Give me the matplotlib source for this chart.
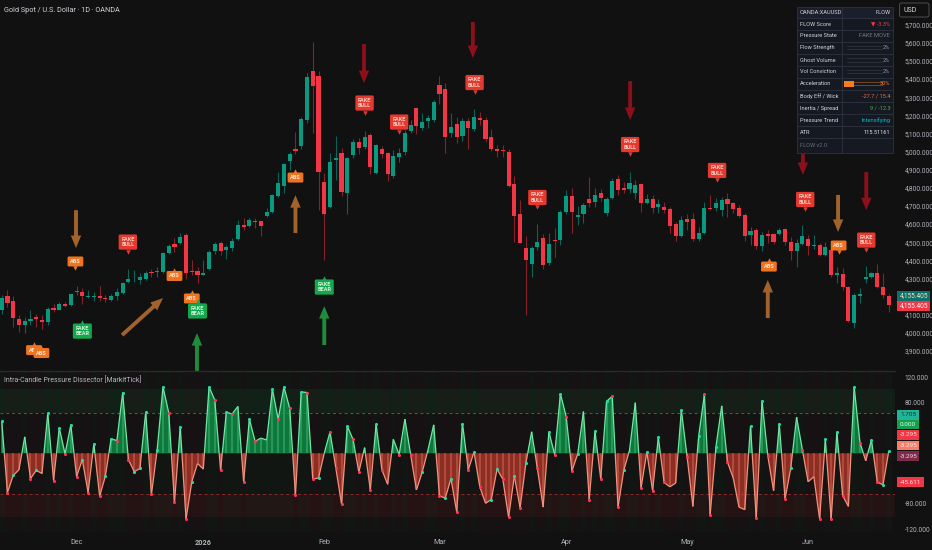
import matplotlib.pyplot as plt
import numpy as np
from matplotlib.collections import LineCollection
from matplotlib.patches import Rectangle, FancyBboxPatch
import matplotlib.transforms as mtransforms

plt.rcParams['font.family'] = ['Roboto', 'DejaVu Sans']

# ---------------- data ----------------
opens = [4125, 4203, 4175, 4074, 4046, 4063, 4087, 4072, 4061, 4135,
         4129, 4162, 4153, 4225, 4227, 4197, 4199, 4206, 4195, 4184,
         4205, 4221, 4280, 4295, 4291, 4297, 4337, 4337, 4337, 4442,
         4488, 4497, 4539, 4343, 4341, 4322, 4350, 4451, 4497, 4457,
         4469, 4518, 4593, 4590, 4619, 4615, 4647, 4665, 4757, 4812,
         4946, 5012, 5031, 5174, 5445, 5417, 4832, 4696, 4956, 4991,
         4774, 4981, 5055, 5027, 5092, 4884, 5016, 4994, 4865, 4972,
         4996, 5114, 5241, 5128, 5169, 5174, 5366, 5343, 5101, 5150,
         5086, 5169, 5123, 5187, 5174, 5079, 5013, 5011, 4996, 4821,
         4656, 4470, 4380, 4472, 4522, 4384, 4512, 4513, 4669, 4755,
         4638, 4656, 4740, 4724, 4770, 4663, 4742, 4847, 4797, 4792,
         4770, 4821, 4718, 4737, 4693, 4694, 4682, 4599, 4536, 4627,
         4626, 4516, 4549, 4689, 4691, 4678, 4737, 4718, 4691, 4650,
         4540, 4568, 4479, 4544, 4544, 4546, 4571, 4503, 4454, 4490,
         4518, 4479, 4485, 4430, 4457, 4317, 4325, 4255, 4056, 4204,
         4295, 4310, 4329, 4255, 4204]
highs = [4208, 4239, 4203, 4098, 4089, 4129, 4107, 4098, 4144, 4157,
         4171, 4171, 4217, 4258, 4245, 4236, 4227, 4258, 4208, 4217,
         4245, 4282, 4350, 4346, 4332, 4343, 4350, 4361, 4447, 4493,
         4525, 4549, 4549, 4401, 4365, 4401, 4457, 4503, 4506, 4484,
         4521, 4623, 4632, 4636, 4632, 4619, 4687, 4766, 4889, 4939,
         5000, 5110, 5193, 5432, 5605, 5446, 4880, 4991, 5088, 5022,
         4972, 5068, 5073, 5116, 5101, 5042, 5031, 5000, 5009, 5018,
         5119, 5174, 5248, 5215, 5202, 5285, 5417, 5377, 5211, 5189,
         5184, 5184, 5233, 5220, 5193, 5123, 5036, 5036, 5013, 4866,
         4733, 4535, 4479, 4601, 4546, 4553, 4577, 4678, 4788, 4797,
         4700, 4715, 4858, 4797, 4792, 4748, 4853, 4871, 4834, 4889,
         4843, 4829, 4766, 4761, 4737, 4724, 4696, 4610, 4645, 4656,
         4660, 4582, 4724, 4761, 4742, 4752, 4774, 4724, 4706, 4663,
         4582, 4577, 4558, 4568, 4553, 4577, 4577, 4527, 4516, 4595,
         4540, 4540, 4494, 4503, 4476, 4365, 4356, 4259, 4218, 4246,
         4369, 4338, 4380, 4329, 4215]
lows = [4107, 4144, 4033, 4006, 3997, 4043, 4033, 4020, 4043, 4113,
        4125, 4144, 4147, 4208, 4162, 4190, 4177, 4177, 4171, 4177,
        4184, 4217, 4273, 4282, 4269, 4291, 4309, 4309, 4332, 4435,
        4447, 4493, 4300, 4319, 4273, 4319, 4346, 4438, 4429, 4405,
        4451, 4512, 4568, 4586, 4577, 4536, 4641, 4660, 4752, 4770,
        4899, 4987, 5012, 5156, 5101, 4678, 4402, 4687, 4843, 4757,
        4654, 4963, 4987, 5012, 4876, 4876, 4963, 4840, 4853, 4945,
        4981, 5101, 5095, 5119, 5128, 5165, 5261, 4994, 5082, 5049,
        5060, 5013, 5116, 5147, 5055, 5005, 4968, 4972, 4803, 4503,
        4494, 4099, 4306, 4457, 4351, 4375, 4421, 4485, 4656, 4553,
        4595, 4604, 4696, 4696, 4728, 4645, 4737, 4761, 4770, 4770,
        4737, 4669, 4711, 4660, 4660, 4660, 4549, 4509, 4531, 4568,
        4509, 4509, 4546, 4678, 4674, 4647, 4641, 4660, 4641, 4509,
        4485, 4461, 4454, 4498, 4490, 4540, 4485, 4402, 4365, 4485,
        4430, 4461, 4424, 4424, 4310, 4273, 4237, 4062, 4025, 4167,
        4277, 4301, 4246, 4191, 4117]
closes = [4190, 4166, 4083, 4043, 4065, 4074, 4074, 4059, 4131, 4125,
          4162, 4151, 4214, 4232, 4203, 4205, 4205, 4192, 4188, 4205,
          4227, 4278, 4298, 4300, 4306, 4333, 4328, 4343, 4442, 4480,
          4475, 4530, 4328, 4335, 4319, 4332, 4447, 4490, 4453, 4475,
          4508, 4595, 4582, 4623, 4612, 4592, 4665, 4761, 4829, 4932,
          4987, 5005, 5178, 5413, 5364, 4889, 4656, 4941, 4963, 4779,
          4963, 5055, 5022, 5079, 4917, 5038, 4987, 4875, 4976, 4994,
          5105, 5147, 5141, 5163, 5184, 5276, 5316, 5082, 5138, 5079,
          5171, 5132, 5189, 5174, 5071, 5014, 5002, 5002, 4812, 4647,
          4494, 4402, 4470, 4503, 4375, 4490, 4507, 4669, 4757, 4669,
          4649, 4704, 4715, 4763, 4746, 4737, 4840, 4788, 4788, 4829,
          4818, 4715, 4737, 4687, 4709, 4678, 4592, 4536, 4623, 4610,
          4516, 4553, 4691, 4683, 4715, 4733, 4711, 4683, 4647, 4535,
          4564, 4479, 4540, 4536, 4503, 4568, 4503, 4454, 4494, 4535,
          4481, 4485, 4430, 4472, 4319, 4329, 4255, 4068, 4209, 4215,
          4310, 4329, 4255, 4209, 4155]

pressure = [51, -62, -35, -26, 26, -40, -27, -32, 63, -43,
            40, -1, 45, -37, -10, -62, 15, -68, -36, 23,
            20, 96, -10, -29, -24, 65, -65, 6, 105, 64,
            -77, 42, -104, -45, -16, -25, 105, 84, -27, 65,
            62, 74, -45, 54, 19, 24, 21, 101, 54, 105,
            71, -66, 97, 96, -41, -39, 0, 34, -23, -80,
            43, 22, -30, 9, -58, 46, -26, -49, 22, -2,
            54, -2, -58, -30, 5, 45, -67, -71, -40, -93,
            47, -26, 2, -53, -79, -73, -25, -41, -101, -36,
            -86, -16, 34, -24, -85, 34, -2, 94, 58, -28,
            -1, 66, -73, 35, -41, 82, 90, -85, -27, 5,
            80, -55, 2, -59, 25, -46, -53, -47, 68, -6,
            -84, 27, 93, -97, 10, 75, -14, -39, -85, -89,
            43, -103, 83, -4, -59, 46, -72, -23, 57, 6,
            -45, -37, -104, 22, -104, 33, -67, -84, 105, 17,
            -12, 21, -45, -50, 3]
# g = teal dot, r = red dot, . = no dot
dot_flags = ("grg..rg.gr" "grgrgrgrgg" "rgrgggrggr" "rgrg..grrg" "r.rgr..grg"
             "rrgrrg.rrr" "grr.rgr..r" ".r.g..rggr" "grgr.ggrrg" "rg.r.grgrr"
             "g.rgrgrrg." ".rgrgr..gr" ".grrg.r..." "grgr.grg.r" "..rgrgr.gr"
             ".grgg")

month_labels = ['Dec', '2026', 'Feb', 'Mar', 'Apr', 'May', 'Jun']
month_bars = [13, 35, 56, 76, 98, 119, 140]
price_ticks = list(range(3900, 5701, 100))
hidden_price_ticks = [4200]          # covered by the last-price tags
osc_ticks = [120, 80, -80, -120]
osc_level = 64
osc_band = 101

label_texts = ['ABS', 'ABS', 'ABS', 'FAKE BEAR', 'FAKE BULL', 'ABS', 'ABS', 'FAKE BEAR',
               'ABS', 'FAKE BEAR', 'FAKE BULL', 'FAKE BULL', 'FAKE BULL', 'FAKE BULL',
               'FAKE BULL', 'FAKE BULL', 'ABS', 'FAKE BULL', 'ABS', 'FAKE BULL']
label_bars = [5.6, 6.9, 12.8, 14.0, 21.9, 30.0, 33.0, 34.0,
              51.0, 56.0, 63.0, 69.0, 82.1, 93.0,
              109.1, 124.2, 133.2, 139.5, 145.3, 150.1]
label_prices = [3905, 3889, 4394, 4010, 4501, 4314, 4190, 4121,
                4857, 4253, 5268, 5163, 5381, 4747,
                5039, 4896, 4366, 4736, 4482, 4512]
label_dirs = ['up', 'up', 'down', 'up', 'down', 'up', 'up', 'up',
              'up', 'up', 'down', 'down', 'down', 'down',
              'down', 'down', 'up', 'down', 'down', 'down']

arrow_tail_bars = [12.9, 20.9, 33.9, 51.0, 62.9, 56.0, 81.8, 109.1, 139.1, 145.2, 150.1, 133.0]
arrow_tail_prices = [4677, 3988, 3790, 4551, 5593, 3933, 5715, 5389, 5090, 4761, 4887, 4082]
arrow_tip_bars = [12.9, 28.0, 33.9, 51.0, 62.9, 56.0, 81.8, 109.1, 139.1, 145.2, 150.1, 133.0]
arrow_tip_prices = [4468, 4192, 3999, 4760, 5378, 4148, 5516, 5174, 4871, 4557, 4677, 4292]
arrow_kinds = ['abs', 'abs', 'bear', 'abs', 'bull', 'bear', 'bull', 'bull', 'bull', 'abs', 'bull', 'abs']

table_labels = ['OANDA:XAUUSD', 'FLOW Score', 'Pressure State', 'Flow Strength', 'Ghost Volume',
                'Vol Conviction', 'Acceleration', 'Body Eff / Wick', 'Inertia / Spread',
                'Pressure Trend', 'ATR', 'FLOW v2.0']
table_values = ['FLOW', '▼ -3.3%', 'FAKE MOVE', '2%', '2%', '2%', '30%',
                '-27.7 / 15.4', '9 / -12.3', 'Intensifying', '115.51161', '']
table_meter = [None, None, None, 0.02, 0.02, 0.02, 0.30, None, None, None, None, None]

last_price = 4155.405
osc_boxes = ['1.705', '0.000', '-3.295', '-3.295', '-3.295', '-45.611']

# ---------------- styling ----------------
BG = '#111111'
UP, DN = '#089981', '#f23645'
UPW, DNW = '#0b6457', '#86202a'
TXT = '#b2b5be'
W, H = 932, 550

fig = plt.figure(figsize=(W / 100, H / 100), dpi=100, facecolor=BG)


def px_axes(x0, y0, x1, y1):
    return fig.add_axes([x0 / W, 1 - y1 / H, (x1 - x0) / W, (y1 - y0) / H])


n = len(closes)
xs = np.arange(n)
xlim = (-1.7 / 5.76, (895 - 1.7) / 5.76)

# ---------------- price pane ----------------
ax = px_axes(0, 0, 895, 370)
ax.set_facecolor(BG)
ax.set_xlim(*xlim)
ax.set_ylim(5700 - (370 - 24.7) / 0.1813, 5700 + 24.7 / 0.1813)

o = np.array(opens, float)
c = np.array(closes, float)
up = c >= o
ax.vlines(xs, lows, highs, colors=np.where(up, UPW, DNW), lw=0.8, zorder=2)
body_h = np.maximum(np.abs(c - o), 4)
ax.bar(xs, body_h, bottom=np.minimum(o, c), width=0.72,
       color=np.where(up, UP, DN), edgecolor='none', zorder=3)

arrow_cols = {'abs': '#a2622b', 'bull': '#8c0f19', 'bear': '#1f8c3b'}
for tb, tp, hb, hp, k in zip(arrow_tail_bars, arrow_tail_prices, arrow_tip_bars,
                             arrow_tip_prices, arrow_kinds):
    ax.annotate('', xy=(hb, hp), xytext=(tb, tp),
                arrowprops=dict(arrowstyle='simple,head_length=0.9,head_width=0.75,tail_width=0.28',
                                color=arrow_cols[k], lw=0, shrinkA=0, shrinkB=0,
                                mutation_scale=10), zorder=4)

lab_style = {'FAKE BULL': ('#e5392f', '#f9cfc0'),
             'FAKE BEAR': ('#13a84e', '#d3f7dc'),
             'ABS': ('#f0741f', '#fde3cf')}
for b, p, t, d in zip(label_bars, label_prices, label_texts, label_dirs):
    fc, tc = lab_style[t]
    txt = t.replace(' ', '\n')
    ax.text(b, p, txt, ha='center', va='center', fontsize=4.0,
            color=tc, fontweight='bold', linespacing=1.05, zorder=7,
            bbox=dict(boxstyle='round,pad=0.45,rounding_size=0.25', fc=fc, ec='none'))
    half = 9.5 if '\n' in txt else 6.2
    off = mtransforms.offset_copy(ax.transData, fig=fig, x=0,
                                  y=-half if d == 'down' else half, units='dots')
    ax.plot(b, p, marker='v' if d == 'down' else '^', ms=3.2, color=fc,
            mec='none', transform=off, zorder=7)

ax.yaxis.tick_right()
ax.set_yticks(price_ticks)
ax.set_yticklabels(['' if v in hidden_price_ticks else f'{v:,.3f}' for v in price_ticks])
ax.tick_params(axis='y', length=0, pad=7, labelsize=4.7, labelcolor=TXT)
ax.set_xticks([])
for s in ax.spines.values():
    s.set_visible(False)

# ---------------- oscillator pane ----------------
ax2 = px_axes(0, 372, 895, 532)
ax2.set_facecolor(BG)
ax2.set_xlim(*xlim)
ax2.set_ylim((453.3 - 532) / 0.633, (453.3 - 372) / 0.633)
v = np.array(pressure, float)

ax2.bar(xs, 300, bottom=-150, width=1.0, color=np.where(v >= 0, '#1c7a45', '#7a1f2a'),
        alpha=0.05, edgecolor='none', zorder=0)
ax2.axhspan(osc_level, osc_band, color='#1e6a3c', alpha=0.14, lw=0, zorder=0)
ax2.axhspan(-osc_band, -osc_level, color='#6a1e1e', alpha=0.18, lw=0, zorder=0)
ax2.axhline(osc_level, color='#1f7a48', lw=0.7, ls=(0, (3, 3)), zorder=1)
ax2.axhline(-osc_level, color='#8a2a2a', lw=0.7, ls=(0, (3, 3)), zorder=1)

ax2.fill_between(xs, v, 0, where=v >= 0, interpolate=True, color='#0f9e4d', alpha=0.72, lw=0, zorder=2)
ax2.fill_between(xs, v, 0, where=v <= 0, interpolate=True, color='#d9402f', alpha=0.62, lw=0, zorder=2)
ax2.vlines(xs, 0, v, colors=np.where(v >= 0, '#5cf0a0', '#ff9a88'), lw=1.3, alpha=0.3, zorder=3)

POS, NEG = '#74e6a6', '#f2937f'
segs, segc = [], []
for i in range(n - 1):
    y0, y1 = v[i], v[i + 1]
    if y0 * y1 < 0:
        xc = i + y0 / (y0 - y1)
        segs += [[(i, y0), (xc, 0)], [(xc, 0), (i + 1, y1)]]
        segc += [POS if y0 > 0 else NEG, POS if y1 > 0 else NEG]
    else:
        segs.append([(i, y0), (i + 1, y1)])
        segc.append(POS if (y0 + y1) >= 0 else NEG)
ax2.add_collection(LineCollection(segs, colors=segc, linewidths=0.9, zorder=4))

flags = np.array(list(dot_flags))
for f, col in (('g', '#22dca8'), ('r', '#ff3355')):
    m = flags == f
    ax2.scatter(xs[m], v[m], s=5, color=col, lw=0, zorder=5)

ax2.yaxis.tick_right()
ax2.set_yticks(osc_ticks)
ax2.set_yticklabels([f'{t:.3f}' for t in osc_ticks])
ax2.tick_params(axis='y', length=0, pad=7, labelsize=4.7, labelcolor=TXT)
ax2.set_xticks(month_bars)
ax2.set_xticklabels(month_labels)
ax2.tick_params(axis='x', length=0, pad=5, labelsize=5.2, labelcolor=TXT)
ax2.get_xticklabels()[1].set_fontweight('bold')
for s in ax2.spines.values():
    s.set_visible(False)

# ---------------- overlay (pixel coords) ----------------
ov = fig.add_axes([0, 0, 1, 1])
ov.set_xlim(0, W)
ov.set_ylim(H, 0)
ov.axis('off')

ov.plot([0, 895], [370.5, 370.5], color='#2a2a2a', lw=1.0)
ov.text(4, 10, 'Gold Spot / U.S. Dollar · 1D · OANDA', fontsize=5.2, color='#d1d4dc', va='center')
ov.text(4, 380, 'Intra-Candle Pressure Dissector [MarkitTick]', fontsize=5.0, color=TXT, va='center')

ov.add_patch(FancyBboxPatch((899.5, 3), 29.5, 14, boxstyle='round,pad=0,rounding_size=2',
                            fc=BG, ec='#4a4d57', lw=0.7))
ov.text(903, 10, 'USD', fontsize=5.0, color='#d1d4dc', va='center')

# last price tags
for (y0, fc, tc) in ((290.7, '#0f6f6c', '#f3e9b3'), (300.8, '#f23645', '#ffffff')):
    ov.add_patch(Rectangle((897.3, y0), 32.5, 10, fc=fc, ec='none'))
    ov.text(900, y0 + 5, f'{last_price:,.3f}', fontsize=4.7, color=tc, va='center')

# oscillator value tags
tag_y = [410, 419.5, 430, 440.7, 451.3, 477.3]
tag_w = [21.5, 21.5, 21.5, 21.5, 21.5, 27]
tag_fc = ['#20b596', '#11a04d', '#f23645', '#f47f6b', '#7c2b4a', '#f23645']
tag_tc = ['#12302f', '#e8fff0', '#ffd9d9', '#ffe6e0', '#ffd4de', '#ffe0e0']
for t, y0, w, fc, tc in zip(osc_boxes, tag_y, tag_w, tag_fc, tag_tc):
    ov.add_patch(Rectangle((897.3, y0), w, 9.6, fc=fc, ec='none'))
    ov.text(900, y0 + 4.9, t, fontsize=4.6, color=tc, va='center')

# info table
tx0, txm, tx1 = 797.3, 841.7, 892.7
rows = [6.7, 18.3, 30, 41.7, 54, 66, 77.7, 90, 102.3, 114, 126, 138, 153.3]
val_cols = ['#d1d4dc', '#f23645', '#787b86', '#9598a1', '#9598a1', '#9598a1', '#f57c1f',
            '#f26b4a', '#4caf50', '#00bcd4', '#e0e3eb', '#5d606b']
for i, (lab, val) in enumerate(zip(table_labels, table_values)):
    ya, yb = rows[i], rows[i + 1]
    fc = '#1b1f2b' if i == 0 else '#151922'
    ov.add_patch(Rectangle((tx0, ya), txm - tx0, yb - ya, fc=fc, ec='#2e3240', lw=0.6))
    ov.add_patch(Rectangle((txm, ya), tx1 - txm, yb - ya, fc=fc, ec='#2e3240', lw=0.6))
    ym = (ya + yb) / 2
    ov.text(tx0 + 2.5, ym, lab, fontsize=4.1, va='center',
            color='#6a6d78' if i == len(table_labels) - 1 else '#d1d4dc')
    if val:
        ov.text(tx1 - 2.5, ym, val, fontsize=4.1, va='center', ha='right', color=val_cols[i])
    frac = table_meter[i]
    if frac is not None:
        col = '#f57c1f' if frac > 0.1 else '#4a4d57'
        if frac > 0.1:
            ov.add_patch(Rectangle((844.3, ym - 3.2), 10, 6.4, fc='#f57c1f', ec='none'))
        for dy in (-1.6, 1.6):
            ov.plot([846.5, 881.5], [ym + dy, ym + dy], color=col, lw=0.6, ls=(0, (1.2, 1.2)))

fig.savefig('out.png', dpi=100, facecolor=BG)
